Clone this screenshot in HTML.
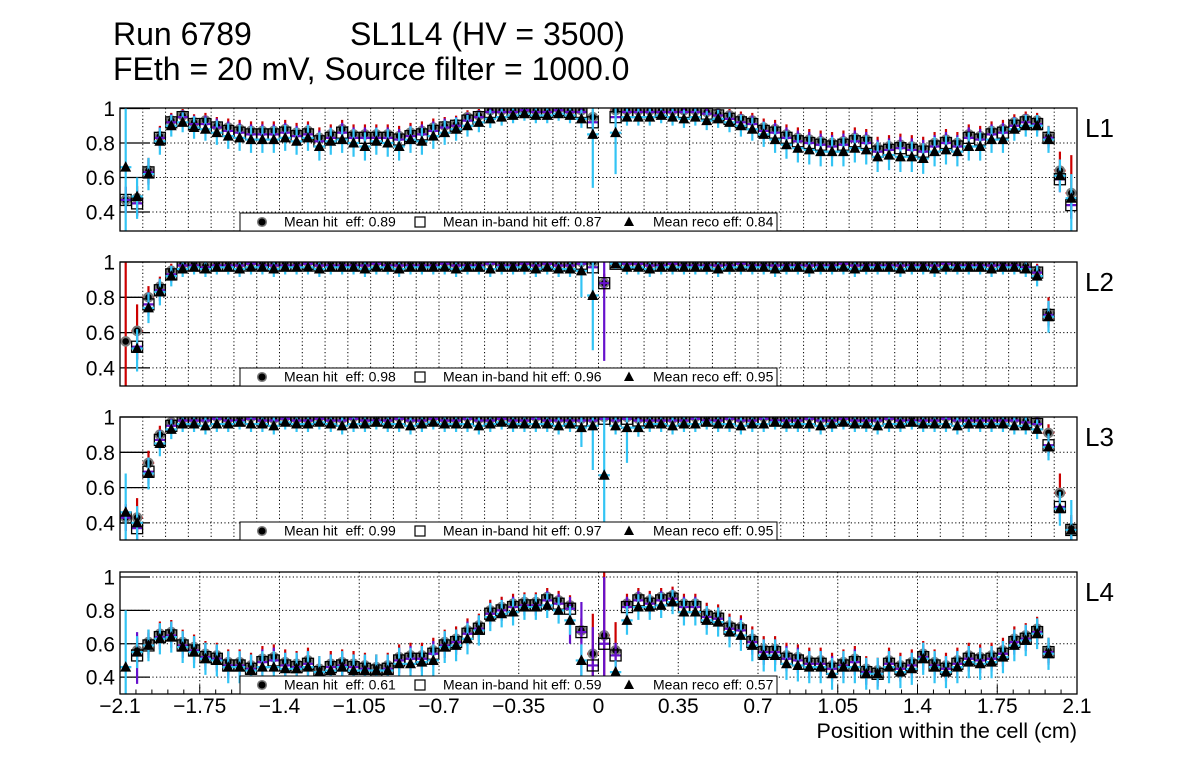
<!DOCTYPE html>
<html><head><meta charset="utf-8"><style>
html,body{margin:0;padding:0;background:#fff;}
svg{display:block;font-family:"Liberation Sans",Arial,sans-serif;}
</style></head><body>
<svg id="chart" width="1196" height="772" viewBox="0 0 1196 772" xmlns="http://www.w3.org/2000/svg">
<rect x="0" y="0" width="1196" height="772" fill="#fff"/>
<text x="113" y="45" font-size="32">Run 6789</text>
<text x="350" y="45" font-size="32">SL1L4 (HV = 3500)</text>
<text x="113" y="80" font-size="32">FEth = 20 mV, Source filter = 1000.0</text>
<text x="1077" y="738" font-size="21.5" text-anchor="end">Position within the cell (cm)</text>
</svg>
<script>
const xTickLabels=["\u22122.1","\u22121.75","\u22121.4","\u22121.05","\u22120.7","\u22120.35","0","0.35","0.7","1.05","1.4","1.75","2.1"];
const xTickValues=[-2.1,-1.75,-1.4,-1.05,-0.7,-0.35,0,0.35,0.7,1.05,1.4,1.75,2.1];
const yTickValues=[0.4,0.6,0.8,1.0];
const yTickLabels=["0.4","0.6","0.8","1"];
const layerNames=["L1","L2","L3","L4"];
const meanHit=["0.89","0.98","0.99","0.61"];
const meanInband=["0.87","0.96","0.97","0.59"];
const meanReco=["0.84","0.95","0.95","0.57"];
const nBins=84;
const binCenters=Array.from({length:nBins},(_,i)=>-2.075+0.05*i);
const _=null;
const hitL1=[0.47,0.48,0.64,0.84,0.93,0.96,0.92,0.93,0.90,0.89,0.88,0.87,0.87,0.87,0.88,0.86,0.87,0.83,0.85,0.88,0.85,0.85,0.85,0.85,0.84,0.86,0.87,0.89,0.90,0.91,0.95,0.96,0.99,0.99,0.99,0.99,0.99,0.99,1.0,0.99,0.99,0.95,_,0.99,0.99,0.99,0.99,0.99,0.99,0.99,0.99,0.98,0.97,0.96,0.94,0.93,0.89,0.88,0.85,0.83,0.82,0.81,0.80,0.81,0.83,0.82,0.77,0.78,0.79,0.78,0.77,0.80,0.82,0.80,0.85,0.84,0.87,0.88,0.92,0.94,0.93,0.84,0.64,0.51];
const inbandL1=[0.47,0.45,0.63,0.83,0.92,0.95,0.91,0.91,0.89,0.87,0.86,0.85,0.85,0.85,0.86,0.84,0.85,0.81,0.83,0.86,0.83,0.83,0.83,0.83,0.82,0.84,0.85,0.87,0.89,0.90,0.93,0.95,0.98,0.98,0.98,0.99,0.98,0.98,0.99,0.98,0.98,0.92,_,0.95,0.98,0.98,0.98,0.98,0.98,0.98,0.98,0.97,0.96,0.94,0.92,0.91,0.87,0.86,0.83,0.81,0.80,0.79,0.78,0.79,0.81,0.80,0.75,0.76,0.77,0.76,0.75,0.78,0.80,0.78,0.83,0.82,0.85,0.86,0.90,0.92,0.91,0.83,0.59,0.44];
const recoL1=[0.66,0.49,0.62,0.81,0.90,0.92,0.89,0.88,0.86,0.84,0.83,0.82,0.82,0.82,0.83,0.81,0.83,0.78,0.81,0.82,0.80,0.78,0.81,0.80,0.78,0.82,0.81,0.84,0.86,0.88,0.90,0.92,0.94,0.95,0.96,0.97,0.96,0.96,0.97,0.96,0.94,0.85,_,0.86,0.95,0.95,0.95,0.96,0.95,0.94,0.95,0.93,0.94,0.92,0.90,0.88,0.85,0.82,0.79,0.77,0.76,0.75,0.75,0.75,0.77,0.76,0.72,0.73,0.72,0.72,0.71,0.75,0.76,0.75,0.78,0.78,0.82,0.82,0.88,0.90,0.90,0.82,0.61,0.48];
const hitL2=[0.55,0.61,0.80,0.86,0.95,0.99,0.99,0.98,0.99,0.99,0.99,1.0,0.99,0.99,0.99,0.99,1.0,0.99,0.99,0.99,0.99,0.99,1.0,0.99,0.99,0.99,0.99,0.99,1.0,0.99,0.99,0.99,1.0,0.99,0.99,1.0,0.99,1.0,0.99,0.99,1.0,1.0,0.88,1.0,1.0,1.0,0.99,0.99,1.0,0.99,0.99,0.99,0.99,0.99,1.0,0.99,0.99,0.99,0.99,0.99,0.99,0.99,0.99,1.0,0.99,0.99,0.99,0.99,0.99,0.99,0.99,0.99,1.0,0.99,0.99,0.99,0.99,0.99,0.99,0.98,0.95,0.71,_,_];
const inbandL2=[_,0.52,0.76,0.84,0.93,0.98,0.98,0.97,0.98,0.98,0.98,0.99,0.98,0.98,0.98,0.98,0.99,0.98,0.98,0.98,0.98,0.98,0.99,0.98,0.98,0.98,0.98,0.98,0.99,0.98,0.98,0.98,0.99,0.98,0.98,0.99,0.98,0.99,0.98,0.98,0.99,0.97,0.88,0.99,0.99,0.99,0.98,0.98,0.99,0.98,0.98,0.98,0.98,0.98,0.99,0.98,0.98,0.98,0.98,0.98,0.98,0.98,0.98,0.99,0.98,0.98,0.98,0.98,0.98,0.98,0.98,0.98,0.99,0.98,0.98,0.98,0.98,0.98,0.98,0.97,0.94,0.70,_,_];
const recoL2=[_,0.51,0.74,0.83,0.92,0.96,0.97,0.96,0.97,0.97,0.96,0.97,0.97,0.96,0.97,0.97,0.97,0.96,0.97,0.97,0.97,0.96,0.97,0.97,0.96,0.97,0.97,0.97,0.97,0.96,0.97,0.97,0.96,0.97,0.97,0.97,0.96,0.97,0.96,0.96,0.95,0.81,_,0.99,0.97,0.97,0.96,0.97,0.97,0.97,0.97,0.97,0.96,0.97,0.97,0.97,0.97,0.96,0.97,0.97,0.96,0.97,0.97,0.97,0.96,0.97,0.97,0.97,0.96,0.97,0.97,0.96,0.97,0.97,0.97,0.97,0.96,0.97,0.97,0.96,0.92,0.69,_,_];
const hitL3=[0.43,0.43,0.74,0.90,0.97,0.99,0.99,0.99,1.0,0.99,0.99,1.0,0.99,0.99,1.0,0.99,0.99,1.0,0.99,0.99,1.0,0.99,0.99,0.99,1.0,0.99,0.99,1.0,0.99,0.99,1.0,0.99,0.99,1.0,0.99,0.99,1.0,0.99,0.99,0.99,0.99,0.99,1.0,0.99,1.0,0.99,0.99,0.99,0.99,0.99,1.0,0.99,0.99,1.0,0.99,0.99,1.0,0.99,0.99,0.99,1.0,0.99,0.99,1.0,0.99,0.99,0.99,1.0,0.99,0.99,0.99,0.99,1.0,0.99,0.99,0.99,0.99,0.99,0.99,0.98,0.97,0.91,0.57,0.37];
const inbandL3=[0.43,0.37,0.69,0.87,0.95,0.98,0.98,0.98,0.99,0.98,0.98,0.99,0.98,0.98,0.99,0.98,0.98,0.99,0.98,0.98,0.99,0.98,0.98,0.98,0.99,0.98,0.98,0.99,0.98,0.98,0.99,0.98,0.98,0.99,0.98,0.98,0.99,0.98,0.98,0.98,0.98,0.98,0.99,0.98,0.99,0.98,0.98,0.98,0.98,0.98,0.99,0.98,0.98,0.99,0.98,0.98,0.99,0.98,0.98,0.98,0.99,0.98,0.98,0.99,0.98,0.98,0.98,0.99,0.98,0.98,0.98,0.98,0.99,0.98,0.98,0.98,0.98,0.98,0.98,0.97,0.96,0.84,0.49,0.36];
const recoL3=[0.46,0.40,0.68,0.85,0.93,0.96,0.96,0.95,0.96,0.96,0.97,0.96,0.96,0.95,0.97,0.96,0.96,0.97,0.96,0.95,0.96,0.96,0.97,0.96,0.96,0.95,0.96,0.97,0.96,0.96,0.96,0.95,0.96,0.97,0.96,0.96,0.96,0.96,0.95,0.96,0.94,0.95,0.67,0.95,0.94,0.94,0.96,0.96,0.95,0.96,0.96,0.97,0.96,0.96,0.95,0.96,0.96,0.97,0.96,0.96,0.96,0.95,0.96,0.97,0.96,0.96,0.95,0.96,0.96,0.97,0.96,0.96,0.96,0.95,0.96,0.96,0.96,0.96,0.95,0.95,0.93,0.83,0.48,0.36];
const hitL4=[_,0.56,0.61,0.66,0.67,0.61,0.58,0.54,0.53,0.49,0.49,0.47,0.51,0.52,0.49,0.48,0.50,0.45,0.48,0.49,0.48,0.47,0.46,0.47,0.52,0.53,0.53,0.56,0.61,0.63,0.68,0.71,0.80,0.82,0.84,0.85,0.85,0.88,0.86,0.83,0.68,0.54,0.65,0.56,0.84,0.88,0.86,0.88,0.89,0.84,0.84,0.78,0.77,0.71,0.70,0.63,0.57,0.57,0.53,0.52,0.50,0.50,0.47,0.49,0.51,0.45,0.44,0.50,0.47,0.49,0.54,0.49,0.47,0.50,0.53,0.52,0.53,0.56,0.63,0.65,0.69,0.56,_,_];
const inbandL4=[_,0.53,0.59,0.64,0.65,0.59,0.56,0.52,0.51,0.47,0.47,0.45,0.49,0.50,0.47,0.46,0.48,0.43,0.46,0.47,0.46,0.45,0.44,0.45,0.50,0.51,0.51,0.54,0.59,0.61,0.66,0.69,0.78,0.80,0.82,0.83,0.83,0.86,0.84,0.81,0.67,0.47,0.60,0.53,0.82,0.86,0.84,0.86,0.87,0.82,0.82,0.76,0.75,0.69,0.68,0.61,0.55,0.55,0.51,0.50,0.48,0.48,0.45,0.47,0.49,0.43,0.42,0.48,0.45,0.47,0.52,0.47,0.45,0.48,0.51,0.50,0.51,0.54,0.61,0.63,0.67,0.55,_,_];
const recoL4=[0.46,0.55,0.59,0.63,0.64,0.58,0.55,0.51,0.50,0.46,0.46,0.44,0.46,0.46,0.45,0.45,0.46,0.43,0.44,0.46,0.44,0.44,0.44,0.44,0.48,0.48,0.49,0.50,0.58,0.59,0.63,0.68,0.76,0.78,0.79,0.82,0.82,0.83,0.80,0.74,0.50,_,_,0.43,0.74,0.82,0.82,0.83,0.85,0.79,0.79,0.74,0.73,0.67,0.65,0.59,0.53,0.53,0.48,0.47,0.46,0.46,0.42,0.46,0.46,0.42,0.42,0.46,0.43,0.45,0.51,0.46,0.43,0.46,0.49,0.48,0.49,0.52,0.59,0.62,0.66,0.54,_,_];
// large error bars: [series, bin, low, high]
const bigErrL1=[["reco",0,0.29,1.0],["reco",1,0.36,0.6],["hit",1,0.38,0.55],["reco",41,0.54,1.0],["reco",43,0.62,1.0],["hit",82,0.55,0.75],["hit",83,0.36,0.73],["reco",83,0.29,0.62]];
const bigErrL2=[["hit",0,0.28,1.0],["hit",1,0.45,0.76],["reco",1,0.38,0.62],["reco",40,0.80,1.0],["reco",41,0.5,1.0],["inband",42,0.44,1.0],["hit",81,0.64,0.8]];
const bigErrL3=[["reco",0,0.29,0.68],["hit",1,0.35,0.54],["reco",40,0.83,1.0],["reco",41,0.70,1.0],["reco",42,0.29,1.0],["reco",44,0.74,1.0],["hit",82,0.5,0.68],["reco",83,0.3,0.53]];
const bigErrL4=[["reco",0,0.29,0.8],["inband",1,0.36,0.67],["inband",39,0.6,0.88],["inband",40,0.29,0.85],["hit",41,0.29,0.78],["inband",41,0.29,0.7],["hit",42,0.29,1.03],["inband",42,0.29,1.0],["hit",43,0.29,0.73],["reco",43,0.29,0.5]];

const hitSeries=[hitL1,hitL2,hitL3,hitL4];
const inbandSeries=[inbandL1,inbandL2,inbandL3,inbandL4];
const recoSeries=[recoL1,recoL2,recoL3,recoL4];
const bigErrs=[bigErrL1,bigErrL2,bigErrL3,bigErrL4];

const NS="http://www.w3.org/2000/svg";
const svg=document.getElementById('chart');
const frames=[{top:108,bot:231,ymin:0.29,ymax:1.003,grid:0.1},{top:262,bot:386,ymin:0.2975,ymax:1.0,grid:0.1},{top:417,bot:540,ymin:0.303,ymax:1.0,grid:0.1},{top:572,bot:694,ymin:0.299,ymax:1.03,grid:0.35}];
const L=120,R=1077;
function xScale(v){return L+(v+2.1)/4.2*(R-L);}
function mk(tag,attrs,parent){const e=document.createElementNS(NS,tag);for(const k in attrs)e.setAttribute(k,attrs[k]);(parent||svg).appendChild(e);return e;}
function err(v,n){return Math.sqrt(Math.max(v*(1-v),0.0004)/n)+0.012;}

frames.forEach((f,p)=>{
  const yScale=v=>f.bot-(v-f.ymin)/(f.ymax-f.ymin)*(f.bot-f.top);
  const g=mk('g',{});
  
  
  const cp=mk('clipPath',{id:'clip'+p},g);
  mk('rect',{x:L,y:f.top,width:R-L,height:f.bot-f.top},cp);
  const nG=Math.round(4.2/f.grid);
  for(let k=1;k<nG;k++){
    const xv=xScale(-2.1+k*f.grid);
    const gl=mk('line',{x1:xv,x2:xv,y1:f.top,y2:f.bot,stroke:'#000','stroke-width':1,'stroke-dasharray':'1.2,2.4'},g);
    
    
  }
  yTickValues.forEach((tv,k)=>{
    const yv=yScale(tv);
    if(yv>f.top+1){
      const gl=mk('line',{x1:L,x2:R,y1:yv,y2:yv,stroke:'#000','stroke-width':1,'stroke-dasharray':'1.2,2.4'},g);
      
      
    }
    const tk=mk('line',{x1:L,x2:L+30,y1:yv,y2:yv,stroke:'#000','stroke-width':1.3},g);
    
    
    const tl=mk('text',{x:115,y:yv+7.5,'font-size':21,'text-anchor':'end'},g);
    tl.textContent=yTickLabels[k];
    
    
  });
  if(p===3){
    for(let k=0;k<=60;k++){
      const xv=xScale(-2.1+k*0.07);
      const len=(k%5===0)?9:4.5;
      const t=mk('line',{x1:xv,x2:xv,y1:f.bot,y2:f.bot-len,stroke:'#000','stroke-width':1},g);
      
      
    }
    xTickValues.forEach((tv,k)=>{
      const t=mk('text',{x:xScale(tv),y:713,'font-size':21,'text-anchor':'middle'},g);
      t.textContent=xTickLabels[k];
      
      
    });
  }
  const dg=mk('g',{'clip-path':'url(#clip'+p+')'},g);
  
  
  const hw=(R-L)/84/2;
  const series=[{d:hitSeries[p],c:'#cc0000',n:60,m:'hit'},{d:inbandSeries[p],c:'#6611cc',n:60,m:'inband'},{d:recoSeries[p],c:'#33c4f4',n:35,m:'reco'}];
  series.forEach(s=>{
    s.d.forEach((v,i)=>{
      const x=xScale(binCenters[i]);
      const big=bigErrs[p].find(b=>b[0]===s.m&&b[1]===i);
      if(v===null){
        if(big){
          const eb=mk('path',{d:`M${x},${yScale(big[3])}V${yScale(big[2])}`,stroke:s.c,'stroke-width':2.2,fill:'none'},dg);
          
          
        }
        return;
      }
      const y=yScale(v),e=err(v,s.n);
      let lo=v-e,hi=Math.min(v+e,1.0);
      if(big){lo=big[2];hi=big[3];}
      const eb=mk('path',{d:`M${x},${yScale(hi)}V${yScale(lo)}M${x-hw},${y}H${x+hw}`,stroke:s.c,'stroke-width':2.2,fill:'none'},dg);
      
      
      let mkr;
      if(s.m==='hit'){mkr=mk('circle',{cx:x,cy:y,r:4.3,fill:'#000',stroke:'#7a7a7a','stroke-width':2},dg);}
      else if(s.m==='inband'){mkr=mk('rect',{x:x-5.5,y:y-5.5,width:11,height:11,fill:'none',stroke:'#000','stroke-width':1.3},dg);}
      else{mkr=mk('path',{d:`M${x},${y-6}L${x-5.5},${y+4.5}L${x+5.5},${y+4.5}Z`,fill:'#000'},dg);}
      
      
    });
  });
  const fr=mk('rect',{x:L,y:f.top,width:R-L,height:f.bot-f.top,fill:'none',stroke:'#000','stroke-width':1.3},g);
  
  
  const lg=mk('g',{},g);
  
  
  mk('rect',{x:240,y:f.bot-18,width:537,height:18,fill:'#fff',stroke:'#000','stroke-width':1},lg);
  const ly=f.bot-9,lb=f.bot-4.5;
  mk('circle',{cx:262,cy:ly,r:4.3,fill:'#000',stroke:'#7a7a7a','stroke-width':1.5},lg);
  mk('rect',{x:415,y:ly-5,width:10,height:10,fill:'none',stroke:'#000','stroke-width':1.2},lg);
  mk('path',{d:`M629,${ly-5.5}L624,${ly+4}L634,${ly+4}Z`,fill:'#000'},lg);
  const t1=mk('text',{x:284,y:lb,'font-size':14},lg);t1.textContent='Mean hit  eff: '+meanHit[p];t1.style.whiteSpace='pre';
  
  
  const t2=mk('text',{x:443,y:lb,'font-size':14},lg);t2.textContent='Mean in-band hit eff: '+meanInband[p];
  
  
  const t3=mk('text',{x:653,y:lb,'font-size':14},lg);t3.textContent='Mean reco eff: '+meanReco[p];
  
  
  const ln=mk('text',{x:1085,y:f.top+29,'font-size':26},g);
  ln.textContent=layerNames[p];
  
  
});
</script>
</body></html>
